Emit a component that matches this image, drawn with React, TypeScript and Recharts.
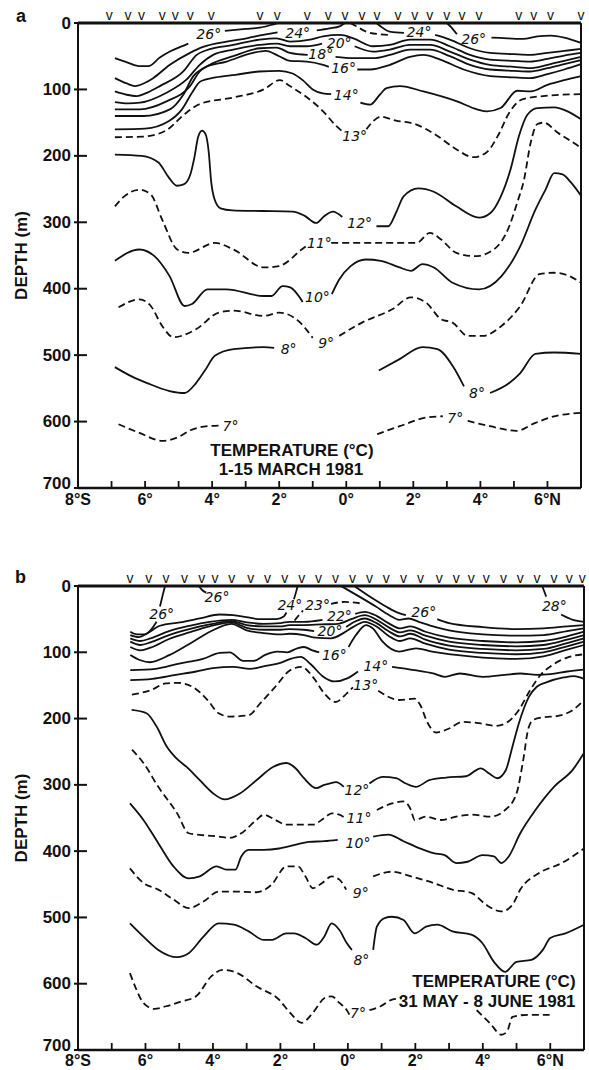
import React from 'react'
import { ComposedChart, Line, Scatter, XAxis, YAxis, Label } from 'recharts'

type Pt = [number, number]

const degTicks = [-8, -7, -6, -5, -4, -3, -2, -1, 0, 1, 2, 3, 4, 5, 6, 7]
const depthTicks = [0, 100, 200, 300, 400, 500, 600, 700]
const sideTicks = [100, 200, 300, 400, 500, 600]

// station positions (deg, S negative)
const stationsA = [-7.07, -6.51, -6.11, -5.49, -5.1, -4.65, -4.03, -2.57, -2.06, -1.16, -0.54, -0.04, 0.47, 0.92, 1.54, 2.04, 2.49, 3.0, 3.45, 3.96, 5.14, 5.59, 6.09, 7.0]
const stationsB = [-6.46, -5.9, -5.39, -4.84, -4.33, -3.94, -3.44, -2.88, -2.38, -1.87, -1.37, -0.87, -0.37, 0.14, 0.64, 1.14, 1.65, 2.15, 2.71, 3.21, 3.66, 4.1, 4.61, 5.11, 5.61, 6.11, 6.56, 6.95]

// ---- panel a: isotherms [lat, depth m] ----
const a26_1: Pt[] = [[-6.9, 53], [-6.5, 60], [-6.15, 65], [-5.9, 65], [-5.56, 52], [-5.26, 43], [-4.95, 36], [-4.71, 31]]
const a26_2: Pt[] = [[-3.62, 12], [-3.0, 9], [-2.58, 7], [-2.25, 3], [-2.05, 0]]
const a26_3: Pt[] = [[3.0, 0], [3.12, 6], [3.3, 17]]
const a26_4: Pt[] = [[4.33, 22], [4.8, 23], [5.28, 24], [5.7, 20], [6.1, 19], [6.5, 22], [7.0, 30]]
const a25: Pt[] = [[0.12, 0], [0.3, 5], [0.6, 13], [1.0, 17], [1.3, 18]]
const a24_1: Pt[] = [[-6.9, 83], [-6.55, 91], [-6.3, 95], [-6.0, 90], [-5.76, 83], [-5.26, 63], [-4.66, 45], [-4.27, 36], [-3.57, 28], [-2.97, 23], [-2.48, 18], [-2.05, 14]]
const a24_2: Pt[] = [[-0.88, 11], [-0.5, 8], [-0.2, 5], [-0.04, 0]]
const a24_3: Pt[] = [[0.9, 0], [1.05, 6], [1.3, 13], [1.72, 15]]
const a24_4: Pt[] = [[2.65, 18], [3.09, 25], [3.69, 38], [4.28, 45], [5.0, 47], [5.48, 48], [6.0, 45], [6.5, 42], [7.0, 39]]
const a22: Pt[] = [[-6.9, 103], [-6.55, 108], [-6.25, 110], [-5.9, 104], [-5.56, 95], [-4.86, 73], [-4.46, 48], [-4.17, 41], [-3.37, 33], [-2.58, 25], [-2.08, 23], [-1.68, 28], [-1.08, 25], [-0.69, 20], [-0.19, 18], [0.21, 23], [0.8, 35], [1.3, 33], [1.9, 25], [2.5, 25], [3.09, 35], [3.69, 48], [4.28, 55], [5.0, 57], [5.48, 58], [6.0, 54], [6.5, 49], [7.0, 45]]
const a20_1: Pt[] = [[-6.9, 119], [-6.5, 121], [-6.15, 120], [-5.36, 105], [-4.76, 85], [-4.37, 63], [-3.97, 48], [-3.37, 40], [-2.58, 33], [-2.08, 31], [-1.68, 35], [-1.18, 35], [-0.72, 31]]
const a20_2: Pt[] = [[0.25, 35], [0.8, 43], [1.3, 40], [1.9, 33], [2.5, 33], [3.09, 43], [3.69, 55], [4.28, 63], [5.0, 66], [5.48, 68], [6.0, 63], [6.5, 57], [7.0, 51]]
const a18_1: Pt[] = [[-6.9, 130], [-6.15, 130], [-5.36, 118], [-4.66, 95], [-4.37, 73], [-4.07, 63], [-3.37, 50], [-2.58, 38], [-2.08, 37], [-1.68, 45], [-1.15, 48]]
const a18_2: Pt[] = [[-0.32, 51], [0.21, 53], [0.8, 53], [1.3, 48], [1.9, 40], [2.5, 40], [3.09, 50], [3.69, 63], [4.28, 70], [5.0, 72], [5.48, 73], [6.0, 68], [6.5, 62], [7.0, 56]]
const a16_1: Pt[] = [[-6.9, 140], [-6.05, 140], [-5.26, 130], [-4.86, 108], [-4.56, 80], [-4.26, 68], [-3.57, 58], [-2.78, 45], [-2.4, 42], [-2.0, 50], [-1.68, 57], [-1.18, 58], [-0.69, 63], [-0.52, 66]]
const a16_2: Pt[] = [[0.33, 70], [0.71, 70], [1.3, 63], [1.9, 51], [2.3, 48], [2.8, 55], [3.5, 70], [4.3, 80], [5.0, 82], [5.48, 83], [6.0, 77], [6.5, 70], [7.0, 62]]
const a14_1: Pt[] = [[-6.9, 160], [-6.0, 159], [-5.3, 148], [-4.9, 130], [-4.6, 105], [-4.35, 88], [-3.9, 82], [-3.3, 78], [-2.6, 73], [-2.0, 72], [-1.6, 76], [-1.3, 86], [-1.0, 100], [-0.7, 106], [-0.45, 107]]
const a14_2: Pt[] = [[0.42, 120], [0.71, 123], [1.0, 108], [1.2, 98], [1.6, 95], [2.3, 103], [3.3, 118], [3.9, 130], [4.2, 133], [4.6, 128], [5.1, 102], [5.5, 103], [6.0, 93], [6.5, 86], [7.0, 80]]
const a13_1: Pt[] = [[-6.9, 172], [-6.06, 171], [-5.38, 162], [-4.82, 137], [-4.37, 122], [-3.36, 112], [-2.46, 100], [-1.98, 86], [-1.68, 95], [-1.28, 108], [-0.69, 133], [-0.3, 155], [-0.12, 163]]
const a13_2: Pt[] = [[0.6, 160], [0.8, 148], [1.03, 141], [1.48, 147], [2.04, 152], [2.72, 170], [3.28, 190], [3.79, 202], [4.18, 195], [4.52, 170], [4.86, 135], [5.25, 115], [5.87, 110], [7.0, 107]]
const a12_1: Pt[] = [[-6.9, 198], [-6.1, 200], [-5.6, 210], [-5.3, 232], [-5.05, 245], [-4.85, 243], [-4.65, 228], [-4.52, 200], [-4.42, 172], [-4.3, 162], [-4.2, 167], [-4.1, 195], [-4.03, 238], [-3.93, 265], [-3.75, 279], [-3.4, 282], [-2.5, 283], [-1.6, 284], [-1.25, 290], [-0.9, 301], [-0.66, 291], [-0.4, 284], [-0.12, 292]]
const a12_2: Pt[] = [[0.9, 306], [1.25, 306], [1.48, 286], [1.71, 261], [2.15, 249], [2.61, 254], [3.28, 276], [3.96, 293], [4.3, 286], [4.6, 262], [4.9, 220], [5.15, 170], [5.4, 138], [5.7, 128], [6.2, 127], [6.6, 133], [7.0, 145]]
const a11_1: Pt[] = [[-6.9, 276], [-6.62, 261], [-6.17, 251], [-5.83, 258], [-5.49, 296], [-5.04, 341], [-4.71, 346], [-3.92, 331], [-3.36, 341], [-2.46, 368], [-2.01, 366], [-1.33, 341], [-1.15, 334]]
const a11_2: Pt[] = [[-0.45, 331], [0.5, 331], [1.2, 331], [2.1, 331], [2.49, 316], [2.83, 326], [3.28, 346], [3.84, 351], [4.4, 341], [4.86, 306], [5.1, 270], [5.3, 236], [5.5, 180], [5.7, 152], [5.9, 150], [6.3, 165], [6.8, 181], [7.0, 188]]
const a10_1: Pt[] = [[-6.9, 358], [-6.17, 341], [-5.72, 351], [-5.27, 381], [-4.82, 426], [-4.6, 423], [-4.14, 401], [-3.58, 401], [-2.46, 411], [-2.23, 411], [-1.9, 396], [-1.67, 398], [-1.3, 420]]
const a10_2: Pt[] = [[-0.43, 408], [-0.21, 386], [0.13, 366], [0.58, 356], [1.03, 358], [1.59, 368], [1.93, 373], [2.27, 363], [2.61, 368], [3.17, 391], [3.96, 401], [4.63, 381], [5.19, 336], [5.64, 281], [5.95, 250], [6.2, 226], [6.45, 228], [6.7, 240], [7.0, 260]]
const a9_1: Pt[] = [[-6.79, 428], [-6.17, 416], [-5.83, 426], [-5.49, 456], [-5.16, 473], [-4.48, 461], [-3.8, 436], [-3.36, 433], [-2.46, 441], [-2.01, 436], [-1.44, 448], [-1.0, 474]]
const a9_2: Pt[] = [[-0.21, 471], [0.47, 451], [1.37, 431], [1.93, 413], [2.38, 421], [2.83, 446], [3.17, 451], [3.62, 471], [4.07, 471], [4.63, 456], [5.19, 426], [5.76, 378], [6.2, 376], [6.66, 381], [7.0, 391]]
const a8_1: Pt[] = [[-6.9, 518], [-6.4, 532], [-5.94, 542], [-5.27, 554], [-4.82, 557], [-4.48, 542], [-4.2, 522], [-3.92, 501], [-3.36, 491], [-2.46, 488], [-2.15, 489]]
const a8_2: Pt[] = [[0.97, 523], [1.59, 506], [2.27, 488], [2.72, 491], [3.17, 516], [3.51, 547]]
const a8_3: Pt[] = [[4.29, 557], [4.86, 542], [5.19, 527], [5.64, 498], [6.2, 496], [7.0, 498]]
const a7_1: Pt[] = [[-6.79, 604], [-6.17, 617], [-5.49, 629], [-5.04, 624], [-4.6, 612], [-4.14, 607], [-3.8, 606]]
const a7_2: Pt[] = [[0.92, 619], [1.59, 607], [2.38, 594], [2.88, 592]]
const a7_3: Pt[] = [[3.62, 599], [4.29, 607], [5.08, 614], [5.64, 602], [6.2, 592], [7.0, 587]]

const labelsA = [
  { x: -4.1, y: 16, t: '26°' }, { x: 3.8, y: 24, t: '26°' },
  { x: -1.45, y: 15, t: '24°' }, { x: 2.17, y: 13, t: '24°' },
  { x: -0.21, y: 30, t: '20°' }, { x: -0.76, y: 47, t: '18°' },
  { x: -0.08, y: 68, t: '16°' }, { x: 0.0, y: 108, t: '14°' },
  { x: 0.25, y: 170, t: '13°' }, { x: 0.4, y: 301, t: '12°' },
  { x: -0.8, y: 331, t: '11°' }, { x: -0.86, y: 413, t: '10°' },
  { x: -0.6, y: 481, t: '9°' }, { x: -1.72, y: 491, t: '8°' },
  { x: 3.9, y: 557, t: '8°' }, { x: -3.45, y: 607, t: '7°' },
  { x: 3.25, y: 594, t: '7°' },
]
const notesA = [
  { x: -1.62, y: 644, t: 'TEMPERATURE (°C)' },
  { x: -1.65, y: 672, t: '1-15 MARCH 1981' },
]

// ---- panel b ----
const b26_1: Pt[] = [[-6.45, 69], [-6.25, 73], [-6.02, 73], [-5.82, 65], [-5.67, 54]]
const b26_2: Pt[] = [[-5.57, 31], [-5.5, 16], [-5.42, 0]]
const b26_3: Pt[] = [[-4.42, 0], [-4.32, 6], [-4.2, 10]]
const b26r_1: Pt[] = [[0.19, 0], [0.74, 19], [1.13, 31], [1.52, 41], [1.72, 44]]
const b26r_2: Pt[] = [[2.65, 50], [3.0, 56], [4.0, 62], [5.0, 65], [5.8, 64], [6.5, 61], [7.0, 59]]
const b28_1: Pt[] = [[5.76, 0], [5.82, 8], [5.88, 16]]
const b28_2: Pt[] = [[6.32, 43], [6.67, 51], [7.0, 54]]
const b24_1: Pt[] = [[-6.45, 74], [-6.2, 77], [-5.97, 72], [-5.57, 60], [-4.98, 55], [-4.39, 49], [-3.8, 43], [-3.4, 44], [-3.01, 47], [-2.61, 50], [-2.12, 50], [-1.9, 46], [-1.82, 40]]
const b24_2: Pt[] = [[-1.6, 20], [-1.54, 10], [-1.49, 0]]
const b24r: Pt[] = [[-0.2, 0], [0.34, 16], [0.83, 31], [1.23, 44], [1.52, 51], [1.8, 49], [2.1, 54], [2.6, 62], [3.0, 67], [4.0, 73], [5.0, 75], [5.8, 74], [6.5, 68], [7.0, 64]]
const b23_1: Pt[] = [[-1.58, 52], [-1.45, 44], [-1.33, 37]]
const b23_2: Pt[] = [[-0.5, 27], [-0.1, 24], [0.35, 26]]
const b22_1: Pt[] = [[-6.45, 79], [-6.15, 83], [-5.85, 79], [-5.3, 68], [-4.7, 60], [-4.1, 54], [-3.45, 51], [-3.0, 55], [-2.5, 57], [-2.0, 56], [-1.73, 54], [-1.3, 54], [-0.75, 51]]
const b22_2: Pt[] = [[0.22, 42], [0.5, 39], [0.85, 45], [1.2, 56], [1.55, 64], [1.85, 61], [2.3, 69], [3.0, 78], [4.0, 83], [5.0, 85], [5.8, 83], [6.5, 76], [7.0, 69]]
const b21: Pt[] = [[-6.45, 84], [-6.15, 89], [-5.85, 85], [-5.3, 74], [-4.7, 65], [-4.1, 58], [-3.45, 53], [-3.0, 59], [-2.5, 61], [-2.0, 61], [-1.73, 59], [-1.3, 59], [-0.8, 58], [-0.3, 57], [0.1, 50], [0.5, 44], [0.85, 51], [1.2, 62], [1.55, 70], [1.85, 67], [2.3, 75], [3.0, 84], [4.0, 89], [5.0, 91], [5.8, 89], [6.5, 81], [7.0, 74]]
const b20_1: Pt[] = [[-6.45, 92], [-6.15, 97], [-5.85, 93], [-5.3, 80], [-4.7, 70], [-4.1, 61], [-3.45, 55], [-3.0, 63], [-2.5, 66], [-2.0, 66], [-1.73, 65], [-1.3, 66], [-1.0, 68]]
const b20_2: Pt[] = [[-0.05, 62], [0.2, 54], [0.5, 49], [0.85, 56], [1.2, 68], [1.55, 76], [1.85, 72], [2.3, 81], [3.0, 90], [4.0, 95], [5.0, 97], [5.8, 95], [6.5, 86], [7.0, 79]]
const b18: Pt[] = [[-6.45, 104], [-6.15, 112], [-5.87, 115], [-5.28, 104], [-4.59, 84], [-4.09, 69], [-3.45, 57], [-3.0, 67], [-2.5, 71], [-2.0, 73], [-1.73, 72], [-1.3, 74], [-0.95, 78], [-0.5, 79], [-0.1, 70], [0.15, 62], [0.5, 54], [0.85, 61], [1.2, 75], [1.55, 83], [1.85, 79], [2.3, 87], [3.0, 96], [4.0, 101], [5.0, 103], [5.8, 100], [6.5, 91], [7.0, 84]]
const b16_1: Pt[] = [[-6.45, 127], [-5.7, 125], [-5.0, 117], [-4.3, 110], [-3.8, 101], [-3.5, 100], [-3.1, 113], [-2.8, 113], [-2.45, 104], [-2.1, 99], [-1.8, 100], [-1.5, 94], [-1.3, 92], [-1.05, 97], [-0.85, 100]]
const b16_2: Pt[] = [[0.02, 92], [0.24, 74], [0.54, 59], [0.74, 64], [1.03, 84], [1.52, 99], [2.02, 94], [2.5, 99], [3.2, 104], [4.0, 108], [5.0, 110], [5.8, 106], [6.5, 96], [7.0, 89]]
const b14_1: Pt[] = [[-6.45, 142], [-5.8, 140], [-5.1, 134], [-4.5, 129], [-4.0, 124], [-3.4, 122], [-2.9, 125], [-2.4, 120], [-2.0, 116], [-1.7, 110], [-1.4, 107], [-1.1, 118], [-0.75, 136], [-0.4, 144], [0.0, 139], [0.3, 129]]
const b14_2: Pt[] = [[1.31, 122], [1.98, 127], [2.53, 132], [2.87, 137], [3.32, 132], [3.99, 137], [4.66, 134], [5.11, 132], [5.6, 134], [6.0, 133], [6.5, 129], [7.0, 126]]
const b13_1: Pt[] = [[-6.4, 164], [-5.84, 157], [-5.4, 147], [-5.06, 146], [-4.61, 152], [-4.16, 172], [-3.83, 192], [-3.49, 197], [-2.94, 195], [-2.6, 177], [-2.15, 152], [-1.71, 127], [-1.37, 122], [-1.04, 137], [-0.7, 162], [-0.37, 175], [-0.03, 162], [0.15, 153]]
const b13_2: Pt[] = [[0.9, 158], [1.53, 172], [1.98, 170], [2.15, 180], [2.35, 205], [2.61, 221], [3.0, 215], [3.4, 205], [3.89, 207], [4.38, 211], [4.68, 207], [5.07, 187], [5.37, 160], [5.7, 135], [6.1, 118], [6.5, 108], [7.0, 103]]
const b12_1: Pt[] = [[-6.41, 187], [-5.97, 192], [-5.67, 212], [-5.37, 242], [-5.08, 260], [-4.78, 273], [-4.39, 293], [-3.99, 313], [-3.65, 322], [-3.2, 313], [-2.71, 293], [-2.22, 273], [-1.82, 267], [-1.55, 275], [-1.3, 290], [-0.94, 305], [-0.7, 300], [-0.55, 298], [-0.35, 296], [-0.12, 303]]
const b12_2: Pt[] = [[0.64, 298], [1.03, 288], [1.43, 290], [1.72, 298], [2.02, 303], [2.41, 293], [2.91, 289], [3.5, 287], [3.94, 275], [4.19, 283], [4.43, 290], [4.68, 278], [4.88, 242], [5.07, 207], [5.37, 167], [5.6, 152], [5.9, 145], [6.4, 138], [6.7, 136], [7.0, 140]]
const b11_1: Pt[] = [[-6.4, 247], [-6.06, 267], [-5.62, 303], [-5.06, 343], [-4.72, 373], [-4.28, 376], [-3.83, 378], [-3.5, 380], [-3.16, 373], [-2.71, 353], [-2.49, 345], [-2.15, 353], [-1.82, 360], [-1.37, 360], [-1.04, 360], [-0.7, 350], [-0.48, 343], [-0.25, 345], [-0.09, 350]]
const b11_2: Pt[] = [[0.86, 338], [1.31, 328], [1.65, 325], [1.87, 338], [1.98, 353], [2.32, 348], [2.76, 353], [3.21, 348], [3.66, 345], [4.22, 348], [4.66, 338], [5.0, 313], [5.2, 262], [5.35, 215], [5.5, 202], [5.8, 198], [6.23, 196], [6.67, 187], [7.0, 172]]
const b10_1: Pt[] = [[-6.46, 328], [-6.06, 353], [-5.62, 388], [-5.17, 423], [-4.72, 441], [-4.39, 438], [-3.89, 423], [-3.6, 428], [-3.33, 428], [-3.16, 408], [-2.94, 398], [-2.49, 398], [-2.04, 396], [-1.6, 391], [-1.15, 386], [-0.7, 385], [-0.3, 383]]
const b10_2: Pt[] = [[0.75, 378], [1.2, 375], [1.65, 385], [2.09, 395], [2.54, 403], [2.87, 406], [3.21, 418], [3.55, 416], [3.99, 406], [4.33, 408], [4.55, 418], [4.77, 408], [5.11, 373], [5.56, 338], [6.11, 303], [6.67, 277], [7.0, 252]]
const b9_1: Pt[] = [[-6.46, 426], [-6.06, 448], [-5.62, 458], [-5.17, 473], [-4.72, 486], [-4.28, 476], [-3.83, 461], [-3.38, 461], [-2.71, 462], [-2.27, 451], [-1.82, 423], [-1.48, 423], [-1.26, 438], [-1.04, 456], [-0.76, 448], [-0.48, 438], [-0.25, 443], [-0.05, 458]]
const b9_2: Pt[] = [[0.75, 438], [1.31, 431], [1.87, 438], [2.54, 448], [3.1, 458], [3.66, 463], [4.1, 481], [4.55, 491], [4.88, 481], [5.11, 458], [5.67, 433], [6.34, 418], [7.0, 396]]
const b8_1: Pt[] = [[-6.46, 509], [-6.06, 529], [-5.62, 549], [-5.06, 560], [-4.72, 554], [-4.28, 529], [-3.83, 509], [-3.38, 511], [-2.94, 521], [-2.49, 534], [-2.27, 534], [-1.82, 524], [-1.6, 524], [-1.26, 531], [-0.92, 541], [-0.7, 529], [-0.48, 509], [-0.25, 519], [-0.03, 539], [0.12, 549]]
const b8_2: Pt[] = [[0.75, 549], [0.86, 514], [1.09, 501], [1.31, 499], [1.65, 504], [1.98, 524], [2.32, 514], [2.65, 511], [3.1, 521], [3.66, 526], [3.99, 539], [4.33, 567], [4.66, 582], [5.0, 567], [5.44, 564], [5.78, 549], [6.0, 531], [6.45, 524], [7.0, 511]]
const b7_1: Pt[] = [[-6.46, 584], [-6.3, 605], [-6.06, 629], [-5.73, 638], [-5.39, 634], [-4.95, 627], [-4.5, 619], [-4.05, 589], [-3.72, 579], [-3.27, 584], [-2.71, 604], [-2.04, 624], [-1.71, 644], [-1.37, 659], [-1.04, 644], [-0.7, 622], [-0.48, 619], [-0.25, 629], [-0.03, 640], [0.08, 650]]
const b7_2: Pt[] = [[0.64, 640], [0.97, 634], [1.31, 624], [1.6, 622]]
const b7_3: Pt[] = [[3.82, 640], [4.22, 660], [4.55, 677], [4.72, 672], [4.88, 650], [5.33, 647], [5.98, 647]]

const labelsB = [
  { x: -5.52, y: 42, t: '26°' }, { x: -3.88, y: 17, t: '26°' },
  { x: -1.72, y: 29, t: '24°' }, { x: -0.9, y: 29, t: '23°' },
  { x: -0.25, y: 46, t: '22°' }, { x: -0.53, y: 68, t: '20°' },
  { x: -0.4, y: 104, t: '16°' }, { x: 0.83, y: 121, t: '14°' },
  { x: 0.53, y: 149, t: '13°' }, { x: 2.25, y: 39, t: '26°' },
  { x: 6.12, y: 30, t: '28°' }, { x: 0.27, y: 308, t: '12°' },
  { x: 0.33, y: 350, t: '11°' }, { x: 0.3, y: 388, t: '10°' },
  { x: 0.38, y: 463, t: '9°' }, { x: 0.4, y: 564, t: '8°' },
  { x: 0.3, y: 644, t: '7°' },
]
const notesB = [
  { x: 6.75, y: 597, t: 'TEMPERATURE (°C)' },
  { x: 6.75, y: 627, t: '31 MAY - 8 JUNE 1981' },
]

const linesA = [
  { d: a26_1 }, { d: a26_2 }, { d: a26_3 }, { d: a26_4 }, { d: a25, dash: true },
  { d: a24_1 }, { d: a24_2 }, { d: a24_3 }, { d: a24_4 }, { d: a22 },
  { d: a20_1 }, { d: a20_2 }, { d: a18_1 }, { d: a18_2 }, { d: a16_1 }, { d: a16_2 },
  { d: a14_1 }, { d: a14_2 }, { d: a13_1, dash: true }, { d: a13_2, dash: true },
  { d: a12_1 }, { d: a12_2 }, { d: a11_1, dash: true }, { d: a11_2, dash: true },
  { d: a10_1 }, { d: a10_2 }, { d: a9_1, dash: true }, { d: a9_2, dash: true },
  { d: a8_1 }, { d: a8_2 }, { d: a8_3 }, { d: a7_1, dash: true }, { d: a7_2, dash: true }, { d: a7_3, dash: true },
]
const linesB = [
  { d: b26_1 }, { d: b26_2 }, { d: b26_3 }, { d: b26r_1 }, { d: b26r_2 }, { d: b28_1 }, { d: b28_2 },
  { d: b24_1 }, { d: b24_2 }, { d: b24r }, { d: b23_1, dash: true }, { d: b23_2, dash: true },
  { d: b22_1 }, { d: b22_2 }, { d: b21 }, { d: b20_1 }, { d: b20_2 }, { d: b18 },
  { d: b16_1 }, { d: b16_2 }, { d: b14_1 }, { d: b14_2 }, { d: b13_1, dash: true }, { d: b13_2, dash: true },
  { d: b12_1 }, { d: b12_2 }, { d: b11_1, dash: true }, { d: b11_2, dash: true },
  { d: b10_1 }, { d: b10_2 }, { d: b9_1, dash: true }, { d: b9_2, dash: true },
  { d: b8_1 }, { d: b8_2 }, { d: b7_1, dash: true }, { d: b7_2, dash: true }, { d: b7_3, dash: true },
]

const INK = '#111'
const axisFont = { fontFamily: '"Liberation Sans", Arial, sans-serif', fontWeight: 700, fontSize: 17, fill: INK }
const degFont = { ...axisFont, fontSize: 16 }
const isoFont = { fontFamily: '"DejaVu Sans", sans-serif', fontStyle: 'italic', fontSize: 14, fill: INK }

const toRows = (seg: Pt[]) => seg.map(([x, y]) => ({ x, y }))
const atSurface = (xs: number[]) => xs.map((x) => ({ x, y: 0 }))
const degLabel = (v: number) => (v === -8 ? '8°S' : v === 6 ? '6°N' : `${Math.abs(v)}°`)

// the bottom depth label sits a little above its tick, as in the original
const depthTick = (p: any) => (
  <g>
    <line x1={p.x - 4} x2={p.x + 9} y1={p.y} y2={p.y} stroke={INK} strokeWidth={2} />
    <text x={p.x - 7} y={p.payload.value === 700 ? p.y - 5 : p.y} textAnchor="end" dominantBaseline="central" style={axisFont}>{p.payload.value}</text>
  </g>
)
const sideTick = (p: any) => <line x1={p.x - 6} x2={p.x} y1={p.y} y2={p.y} stroke={INK} strokeWidth={1.8} />
const makeDegTick = (gap: number) => (p: any) => (
  <g>
    <line x1={p.x} x2={p.x} y1={p.y} y2={p.y - 7} stroke={INK} strokeWidth={1.8} />
    {p.payload.value % 2 === 0 && (
      <text x={p.x} y={p.y + gap} textAnchor="middle" style={degFont}>{degLabel(p.payload.value)}</text>
    )}
  </g>
)
const depthTitle = (p: any) => {
  const vb = p.viewBox || { x: 18, y: 23, width: 60, height: 465 }
  return (
    <text transform={`translate(${vb.x + 3}, ${vb.y + vb.height / 2}) rotate(-90)`} textAnchor="middle" dominantBaseline="central" style={axisFont}>
      DEPTH (m)
    </text>
  )
}
const isoLabel = (p: any) => (
  <text x={p.cx} y={p.cy} textAnchor="middle" dominantBaseline="central" style={isoFont}>{p.payload.t}</text>
)
const stationMark = (p: any) => (
  <text x={p.cx} y={p.cy - 3} textAnchor="middle" style={{ fontFamily: '"Liberation Sans", Arial, sans-serif', fontSize: 14, fill: INK }}>v</text>
)
const makeNote = (anchor: string) => (p: any) => (
  <text x={p.cx} y={p.cy} textAnchor={anchor} dominantBaseline="central" style={axisFont}>{p.payload.t}</text>
)

interface PanelProps {
  lines: { d: Pt[]; dash?: boolean }[]
  labels: { x: number; y: number; t: string }[]
  notes: { x: number; y: number; t: string }[]
  noteAnchor: string
  stations: number[]
  margin: { top: number; right: number; bottom: number; left: number }
  xAxisHeight: number
  labelGap: number
}

function Panel({ lines, labels, notes, noteAnchor, stations, margin, xAxisHeight, labelGap }: PanelProps) {
  return (
    <ComposedChart width={589} height={535} margin={margin}>
      <XAxis xAxisId="b" dataKey="x" type="number" domain={[-8, 7]} ticks={degTicks} interval={0} height={xAxisHeight}
        tickSize={0} tickMargin={0} tickLine={false} axisLine={{ stroke: INK, strokeWidth: 2.5 }} tick={makeDegTick(labelGap)} />
      <XAxis xAxisId="t" orientation="top" type="number" domain={[-8, 7]} height={12}
        tick={false} tickLine={false} axisLine={{ stroke: INK, strokeWidth: 3 }} />
      <YAxis yAxisId="l" type="number" domain={[0, 700]} reversed ticks={depthTicks} interval={0} width={60}
        tickSize={0} tickMargin={0} tickLine={false} axisLine={{ stroke: INK, strokeWidth: 2 }} tick={depthTick}>
        <Label content={depthTitle} />
      </YAxis>
      <YAxis yAxisId="r" orientation="right" type="number" domain={[0, 700]} reversed ticks={sideTicks} interval={0} width={2}
        tickSize={0} tickMargin={0} tickLine={false} axisLine={{ stroke: INK, strokeWidth: 2 }} tick={sideTick} />
      {lines.map((ln, i) => (
        <Line key={i} xAxisId="b" yAxisId="l" data={toRows(ln.d)} dataKey="y" type="monotone" stroke={INK} strokeWidth={1.8}
          strokeDasharray={ln.dash ? '7 4' : undefined} dot={false} activeDot={false} isAnimationActive={false} />
      ))}
      <Scatter xAxisId="b" yAxisId="l" data={atSurface(stations)} dataKey="y" shape={stationMark} isAnimationActive={false} />
      <Scatter xAxisId="b" yAxisId="l" data={labels} dataKey="y" shape={isoLabel} isAnimationActive={false} />
      <Scatter xAxisId="b" yAxisId="l" data={notes} dataKey="y" shape={makeNote(noteAnchor)} isAnimationActive={false} />
    </ComposedChart>
  )
}

const letterStyle: React.CSSProperties = {
  position: 'absolute', fontFamily: '"Liberation Sans", Arial, sans-serif', fontWeight: 700, fontSize: 18, lineHeight: '18px', color: INK,
}

export default function App() {
  return (
    <div style={{ position: 'absolute', left: 0, top: 0, width: 589, height: 1070, background: '#fff', overflow: 'hidden' }}>
      <div style={{ position: 'absolute', left: 0, top: 0 }}>
        <Panel lines={linesA} labels={labelsA} notes={notesA} noteAnchor="middle" stations={stationsA}
          margin={{ top: 11, right: 6, bottom: 17, left: 18 }} xAxisHeight={30} labelGap={17} />
      </div>
      <div style={{ position: 'absolute', left: 0, top: 535 }}>
        <Panel lines={linesB} labels={labelsB} notes={notesB} noteAnchor="end" stations={stationsB}
          margin={{ top: 39, right: 3, bottom: 0, left: 18 }} xAxisHeight={20} labelGap={16} />
      </div>
      <div style={{ ...letterStyle, left: 16, top: 7 }}>a</div>
      <div style={{ ...letterStyle, left: 15, top: 568 }}>b</div>
    </div>
  )
}
